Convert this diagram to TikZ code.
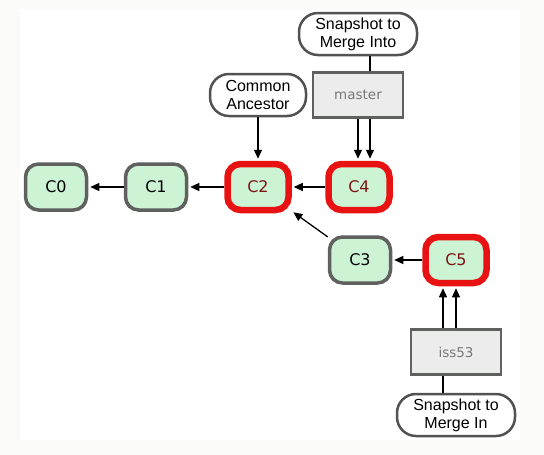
\documentclass[tikz,border=0pt]{standalone}
\usepackage{fontspec}
\setmainfont{Liberation Sans}
\newfontfamily\commitfont{DejaVu Sans}
\usetikzlibrary{arrows.meta}
\definecolor{page}{RGB}{250,250,248}
\definecolor{ink}{RGB}{95,97,95}
\definecolor{leaf}{RGB}{205,243,213}
\definecolor{hot}{RGB}{232,18,18}
\definecolor{hottext}{RGB}{125,20,20}
\definecolor{refbox}{RGB}{236,236,236}
\definecolor{reftext}{RGB}{120,120,120}
\tikzset{
  commit/.style={draw=ink,line width=3.5pt,fill=leaf,rounded corners=13pt,
    minimum width=61pt,minimum height=46pt,
    font=\commitfont\fontsize{16}{18}\selectfont},
  merged/.style={commit,draw=hot,line width=6.5pt,text=hottext},
  branch/.style={draw=ink,line width=2.5pt,fill=refbox,minimum width=90pt,
    minimum height=45pt,text=reftext,font=\commitfont\fontsize{13.5}{16}\selectfont},
  note/.style={draw=ink!85!black,line width=2.5pt,fill=white,rounded corners=19pt,
    minimum height=42pt,align=center,inner sep=2pt,
    font=\fontsize{16}{18}\selectfont},
  arr/.style={-{Triangle[length=9pt,width=8pt]},line width=1.3pt,shorten >=2pt},
  link/.style={line width=1.3pt},
}

\begin{document}
\begin{tikzpicture}[x=1pt,y=-1pt]
  \useasboundingbox[fill=page] (0,0) rectangle (544,455);
  \fill[white] (20,9) rectangle (520,440);
  % main line
  \node[commit] (c0) at (56,187) {C0};
  \node[commit] (c1) at (156,187) {C1};
  \node[merged] (c2) at (258,187) {C2};
  \node[merged] (c4) at (359,187) {C4};
  % topic branch
  \node[commit] (c3) at (360,260) {C3};
  \node[merged] (c5) at (456,260) {C5};
  % refs
  \node[branch] (master) at (358,95) {master};
  \node[branch] (iss53) at (456,352) {iss53};
  % notes
  \node[note,minimum width=118pt] (into) at (358,34) {Snapshot to\\Merge Into};
  \node[note,minimum width=96pt] (ancestor) at (258,95) {Common\\Ancestor};
  \node[note,minimum width=118pt] (mergein) at (456,415) {Snapshot to\\Merge In};
  % parents
  \draw[arr] (c1) -- (c0);
  \draw[arr] (c2) -- (c1);
  \draw[arr] (c4) -- (c2);
  \draw[arr] (c3) -- (c2);
  \draw[arr] (c5) -- (c3);
  % pointers
  \draw[arr] (ancestor) -- (c2);
  \draw[arr] (master.south) -- (master.south |- c4.north);
  \draw[arr] ([xshift=12pt]master.south) -- ([xshift=12pt]master.south |- c4.north);
  \draw[link] ([xshift=12pt]master.north) -- ([xshift=12pt]master.north |- into.south);
  \draw[arr] (iss53.north) -- (iss53.north |- c5.south);
  \draw[arr] ([xshift=-13pt]iss53.north) -- ([xshift=-13pt]iss53.north |- c5.south);
  \draw[link] ([xshift=-13pt]iss53.south) -- ([xshift=-13pt]iss53.south |- mergein.north);
\end{tikzpicture}
\end{document}
